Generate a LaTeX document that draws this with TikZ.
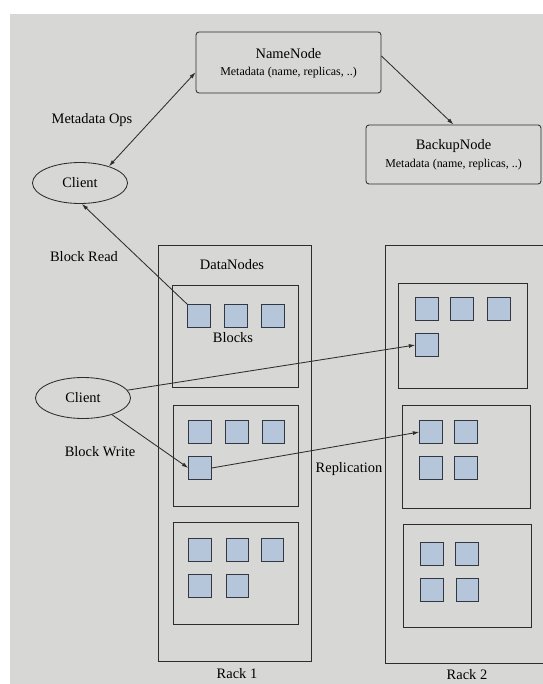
\documentclass[tikz,border=0pt]{standalone}
\usepackage{fontspec}
\setmainfont{Liberation Serif}
\usetikzlibrary{arrows.meta,shapes.geometric,fit}

\definecolor{paper}{RGB}{215,215,214}
\definecolor{ink}{RGB}{45,45,48}
\definecolor{blockfill}{RGB}{182,198,218}
\definecolor{blockedge}{RGB}{50,55,65}

\newcommand\dgLabel{\fontsize{14.5}{17}\selectfont}
\newcommand\dgSmall{\fontsize{12}{14}\selectfont}

\begin{document}
\begin{tikzpicture}[x=1bp,y=-1bp,
  >={Latex[length=6.5bp,width=4bp]},
  frame/.style={draw=ink,line width=0.85bp,inner sep=0pt},
  metabox/.style={frame,rounded corners=3bp},
  client/.style={ellipse,draw=ink,line width=0.85bp,inner sep=0pt,
                 minimum width=95bp,minimum height=41bp,font=\dgLabel},
  blk/.style={draw=blockedge,fill=blockfill,line width=0.85bp,
              inner sep=0pt,minimum size=22.5bp},
  txt/.style={inner sep=0pt,font=\dgLabel},
  small/.style={inner sep=0pt,font=\dgSmall},
  conn/.style={draw=ink,line width=0.85bp}
]
\useasboundingbox (0,0) rectangle (543,684);
\fill[white] (0,0) rectangle (543,684);
\fill[paper] (10,14) rectangle (543,684);

% metadata servers
\node[metabox,fit={(196,32) (381,93)}] (namenode) {};
\node[txt] (nntitle) at (288.5,54) {NameNode};
\node[small] (nnmeta) at (288.5,73) {Metadata (name, replicas, ..)};

\node[metabox,fit={(366,125) (541,184)}] (backupnode) {};
\node[txt] (bntitle) at (453.5,146) {BackupNode};
\node[small] (bnmeta) at (453.5,165) {Metadata (name, replicas, ..)};

% clients
\node[client] (client1) at (80,183) {Client};
\node[client] (client2) at (83,398) {Client};

% rack 1
\node[frame,fit={(158,245) (311,661)}] (rack1) {};
\node[frame,fit={(172,285) (298,387)}] (r1a) {};
\node[frame,fit={(173,405) (298,506)}] (r1b) {};
\node[frame,fit={(173,522) (298,624)}] (r1c) {};

\node[blk] (r1a1) at (199,316) {};
\node[blk] (r1a2) at (236,316) {};
\node[blk] (r1a3) at (273,316) {};

\node[blk] (r1b1) at (200,432) {};
\node[blk] (r1b2) at (237,432) {};
\node[blk] (r1b3) at (273.5,432) {};
\node[blk] (r1b4) at (200,468) {};

\node[blk] (r1c1) at (200,550) {};
\node[blk] (r1c2) at (237.5,550) {};
\node[blk] (r1c3) at (272.5,550) {};
\node[blk] (r1c4) at (200,586) {};
\node[blk] (r1c5) at (237.5,586) {};

% rack 2 (its right side runs past the page edge)
\node[frame,fit={(385,245) (560,663)}] (rack2) {};
\node[frame,fit={(398,283) (527,388)}] (r2a) {};
\node[frame,fit={(402,405) (530,508)}] (r2b) {};
\node[frame,fit={(403,524) (531,627)}] (r2c) {};

\node[blk] (r2a1) at (427,309) {};
\node[blk] (r2a2) at (462,309) {};
\node[blk] (r2a3) at (499,309) {};
\node[blk] (r2a4) at (427,345) {};

\node[blk] (r2b1) at (431,432) {};
\node[blk] (r2b2) at (466,432) {};
\node[blk] (r2b3) at (431,468) {};
\node[blk] (r2b4) at (466,468) {};

\node[blk] (r2c1) at (432,554) {};
\node[blk] (r2c2) at (467,554) {};
\node[blk] (r2c3) at (432,590) {};
\node[blk] (r2c4) at (467.5,590) {};

% labels
\node[txt] (lmeta) at (92,120) {Metadata Ops};
\node[txt] (lread) at (84,257) {Block Read};
\node[txt] (lwrite) at (100,452) {Block Write};
\node[txt] (ldn) at (232,265) {DataNodes};
\node[txt] (lblocks) at (233,338) {Blocks};
\node[txt] (lrepl) at (349,469) {Replication};
\node[txt] (lrack1) at (237,674) {Rack 1};
\node[txt] (lrack2) at (467,675) {Rack 2};

% connectors
\draw[conn,<->] (namenode.186) -- (client1.30);
\draw[conn,->] (namenode.4) -- (backupnode.north);
\draw[conn,->] (r1a1.north west) -- (client1.275);
\draw[conn,->] (client2.10) -- (r2a4.west);
\draw[conn,->] (client2.-30) -- (r1b4.west);
\draw[conn,->] (r1b4.east) -- (r2b1.west);
\end{tikzpicture}
\end{document}
